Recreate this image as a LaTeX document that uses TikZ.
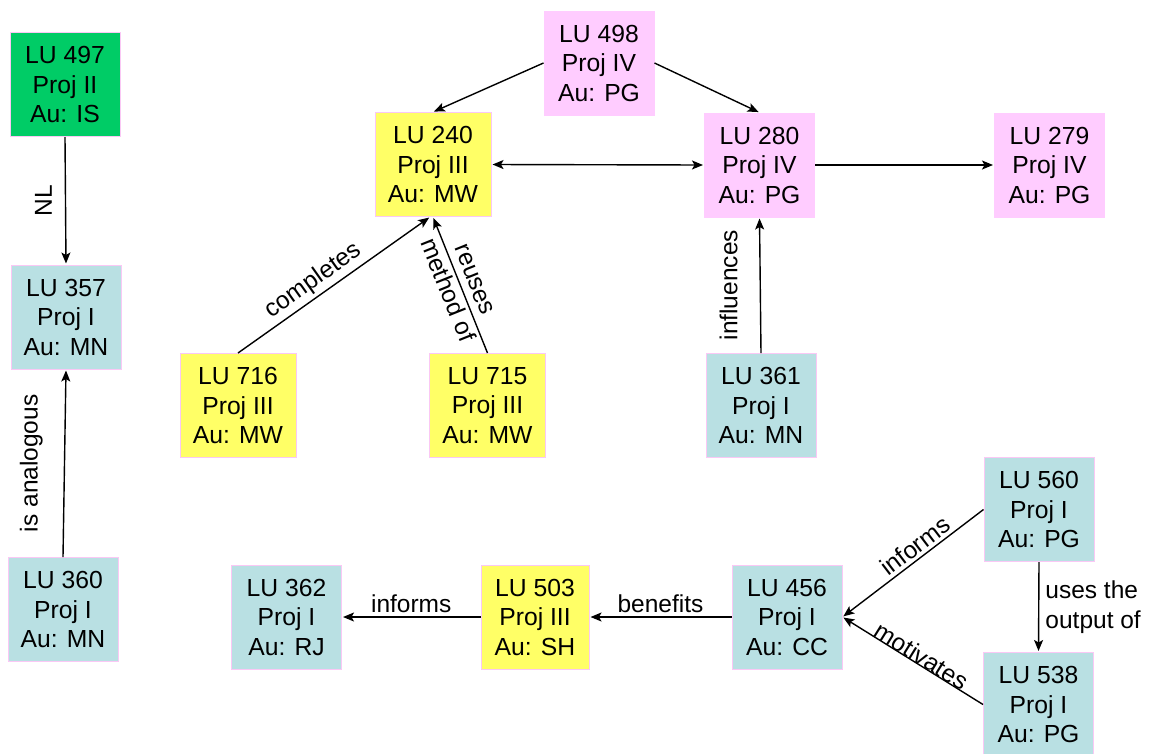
\documentclass[tikz,border=0pt]{standalone}
\usepackage{fontspec}
\setmainfont{Liberation Sans}
\usetikzlibrary{arrows.meta}
\definecolor{cblue}{RGB}{185,224,227}
\definecolor{cyel}{RGB}{255,255,102}
\definecolor{cpink}{RGB}{255,204,255}
\definecolor{cgreen}{RGB}{0,204,102}
\definecolor{cborder}{RGB}{250,200,245}
\begin{document}
\begin{tikzpicture}[x=1pt,y=-1pt,
  box/.style={rectangle, draw=cborder, line width=1pt, minimum width=110pt, minimum height=104pt,
    align=center, inner sep=0pt, font=\fontsize{24.7}{29.5}\selectfont},
  bluebox/.style={box, fill=cblue},
  yelbox/.style={box, fill=cyel, minimum width=116pt},
  pinkbox/.style={box, fill=cpink, draw=cpink},
  greenbox/.style={box, fill=cgreen},
  arr/.style={-{Stealth[length=11pt,width=9pt,inset=2.5pt]}, line width=1.4pt, shorten >=1pt},
  darr/.style={{Stealth[length=11pt,width=9pt,inset=2.5pt]}-{Stealth[length=11pt,width=9pt,inset=2.5pt]}, line width=1.4pt, shorten >=1pt, shorten <=1pt},
  lab/.style={font=\fontsize{24.5}{29.5}\selectfont, inner sep=0pt}]
\useasboundingbox (0,0) rectangle (1149,753);

% nodes
\node[greenbox] (n497) at (65,84.5) {LU 497\\Proj II\\Au: IS};
\node[bluebox]  (n357) at (66,317) {LU 357\\Proj I\\Au: MN};
\node[bluebox]  (n360) at (63,609.5) {LU 360\\Proj I\\Au: MN};
\node[pinkbox]  (n498) at (599,63) {LU 498\\Proj IV\\Au: PG};
\node[yelbox]   (n240) at (433,164.5) {LU 240\\Proj III\\Au: MW};
\node[pinkbox]  (n280) at (759.5,165) {LU 280\\Proj IV\\Au: PG};
\node[pinkbox]  (n279) at (1049.5,165) {LU 279\\Proj IV\\Au: PG};
\node[yelbox]   (n716) at (238,405.5) {LU 716\\Proj III\\Au: MW};
\node[yelbox]   (n715) at (487.5,405.5) {LU 715\\Proj III\\Au: MW};
\node[bluebox]  (n361) at (761,405.5) {LU 361\\Proj I\\Au: MN};
\node[bluebox]  (n560) at (1039,509.5) {LU 560\\Proj I\\Au: PG};
\node[bluebox]  (n538) at (1038.5,704.5) {LU 538\\Proj I\\Au: PG};
\node[bluebox]  (n362) at (286.5,617) {LU 362\\Proj I\\Au: RJ};
\node[yelbox, minimum width=108pt] (n503) at (535,617) {LU 503\\Proj III\\Au: SH};
\node[bluebox]  (n456) at (787,617) {LU 456\\Proj I\\Au: CC};

% connectors
\draw[arr] (n497.south) -- node[lab, midway, xshift=-13pt, rotate=90, anchor=south] {NL} (n357.north);
\draw[arr] (n360.north) -- node[lab, midway, xshift=-21pt, rotate=90, anchor=south] {is analogous} (n357.south);
\draw[arr] (n498.west) -- (n240.north);
\draw[arr] (n498.east) -- (n280.north);
\draw[darr] (n240.east) -- (n280.west);
\draw[arr] (n280.east) -- (n279.west);
\draw[arr] (n716.north) -- node[lab, pos=0.44, sloped, above=3pt] {completes} ([xshift=-3pt]n240.south);
\draw[arr] (n715.north) -- node[lab, midway, sloped, align=center] {reuses\\method of} (n240.south);
\draw[arr] (n361.north) -- node[lab, midway, xshift=-22pt, rotate=90, anchor=south] {influences} (n280.south);
\draw[arr] (n560.west) -- node[lab, pos=0.43, sloped, above=3pt] {informs} (n456.east);
\draw[arr] (n538.west) -- node[lab, pos=0.47, sloped, above=-1pt] {motivates} (n456.east);
\draw[arr] (n560.south) -- node[lab, midway, right=6pt, align=left] {uses the\\output of} (n538.north);
\draw[arr] (n456.west) -- node[lab, midway, above=4pt] {benefits} (n503.east);
\draw[arr] (n503.west) -- node[lab, midway, above=4pt] {informs} (n362.east);
\end{tikzpicture}
\end{document}
